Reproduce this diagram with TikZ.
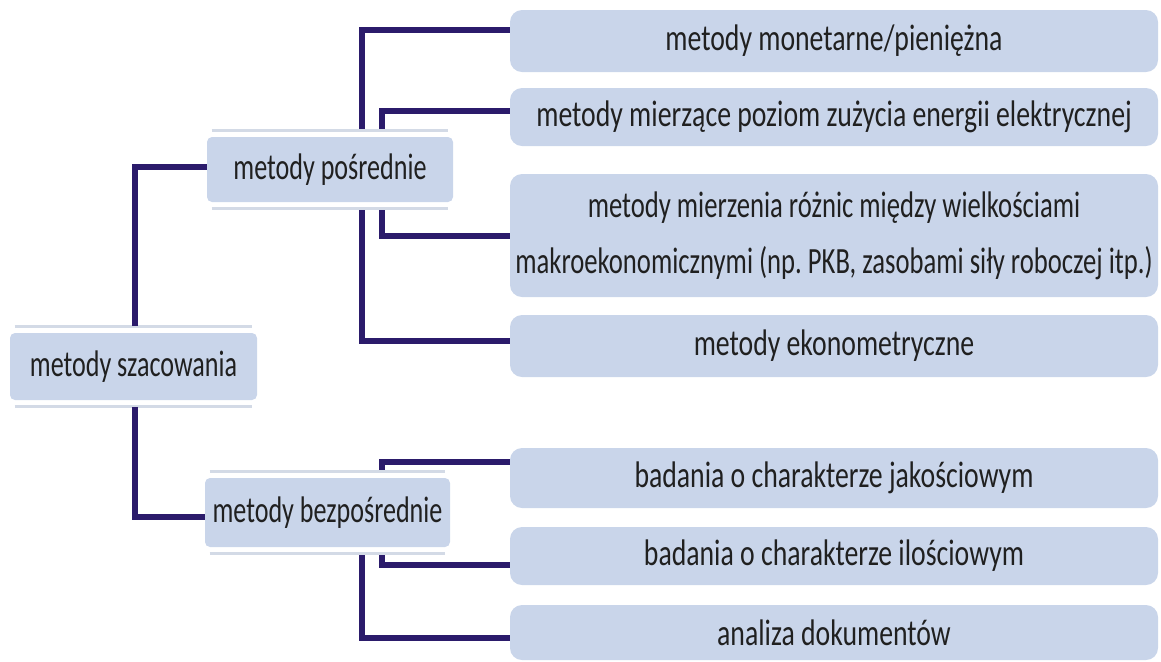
\documentclass[tikz,border=0pt]{standalone}
\usepackage{fontspec}
\setmainfont[FakeStretch=0.75]{Carlito}
\newfontfamily\leftfont[FakeStretch=0.705]{Carlito}
\newfontfamily\midfont[FakeStretch=0.72]{Carlito}
\usetikzlibrary{calc}
\definecolor{boxfill}{HTML}{C9D5EA}
\definecolor{stripc}{HTML}{D3DAE6}
\definecolor{linec}{HTML}{2B1B6B}
\definecolor{txt}{HTML}{202020}
\tikzset{
  leftbox/.style={fill=boxfill, rounded corners=2.5pt, inner sep=0pt, text=txt,
    font=\leftfont\fontsize{18.5}{22}\selectfont, anchor=center},
  rightbox/.style={fill=boxfill, rounded corners=6pt, inner sep=0pt, text=txt,
    minimum width=324pt, font=\fontsize{18.5}{22}\selectfont\frenchspacing, align=center, anchor=center},
  conn/.style={draw=linec, line width=3pt},
  stripline/.style={draw=stripc, line width=1.5pt}
}
\begin{document}
\begin{tikzpicture}[x=0.5pt,y=-0.5pt]
\useasboundingbox (0,0) rectangle (1161,661);
% left nodes
\node[leftbox, minimum width=123.5pt, minimum height=33.5pt] (root) at (133.5,366.5) {metody szacowania};
\node[leftbox, minimum width=123pt, minimum height=32.5pt] (pos) at (330,169.5) {metody pośrednie};
\node[leftbox, minimum width=122.5pt, minimum height=34.5pt] (bez) at (327.5,512.5) {metody bezpośrednie};
% right nodes
\node[rightbox, minimum height=31pt] (b1) at (834,41) {metody monetarne/pieniężna};
\node[rightbox, minimum height=29pt] (b2) at (834,117) {metody mierzące poziom zużycia energii elektrycznej};
\node[rightbox, minimum height=61.5pt, font=\midfont\fontsize{18.5}{22}\selectfont\frenchspacing] (b3) at (834,235.5) {metody mierzenia różnic między wielkościami\\[6pt]makroekonomicznymi (np. PKB, zasobami siły roboczej itp.)};
\node[rightbox, minimum height=31pt] (b4) at (834,346) {metody ekonometryczne};
\node[rightbox, minimum height=30pt] (b5) at (834,478) {badania o charakterze jakościowym};
\node[rightbox, minimum height=29pt] (b6) at (834,556) {badania o charakterze ilościowym};
\node[rightbox, minimum height=27.5pt] (b7) at (834,632.5) {analiza dokumentów};
% strips
\foreach \n in {root,pos,bez}{
  \draw[stripline] ([xshift=2.5pt,yshift=3.2pt]\n.north west) -- ([xshift=-2.5pt,yshift=3.2pt]\n.north east);
  \draw[stripline] ([xshift=2.5pt,yshift=-3.2pt]\n.south west) -- ([xshift=-2.5pt,yshift=-3.2pt]\n.south east);
}
% connectors
\draw[conn] ([xshift=0.75pt,yshift=3.2pt]root.north) |- ($(pos.west)+(0,-2.5)$);
\draw[conn] ([xshift=0.75pt,yshift=-3.2pt]root.south) |- ($(bez.west)+(0,4.5)$);
\draw[conn] ([xshift=16pt,yshift=4pt]pos.north) |- ($(b1.west)+(0,-11)$);
\draw[conn] ([xshift=26pt,yshift=4pt]pos.north) |- ($(b2.west)+(0,-6)$);
\draw[conn] ([xshift=26pt,yshift=-4pt]pos.south) |- (b3.west);
\draw[conn] ([xshift=16pt,yshift=-4pt]pos.south) |- ($(b4.west)+(0,-5)$);
\draw[conn] ([xshift=27.25pt,yshift=4pt]bez.north) |- ($(b5.west)+(0,-16)$);
\draw[conn] ([xshift=27.25pt,yshift=-4pt]bez.south) |- ($(b6.west)+(0,9)$);
\draw[conn] ([xshift=17.25pt,yshift=-4pt]bez.south) |- ($(b7.west)+(0,5.5)$);
\end{tikzpicture}
\end{document}
